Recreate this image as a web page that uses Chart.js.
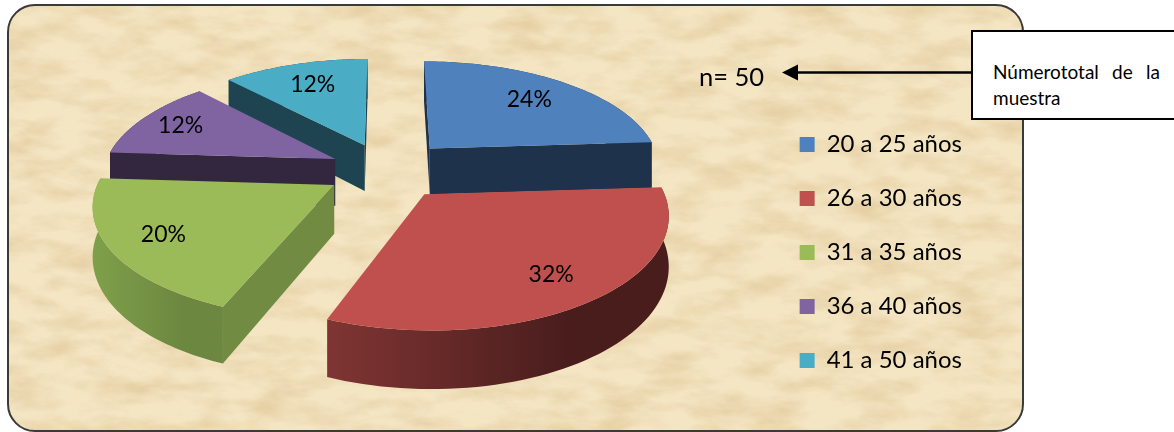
<!DOCTYPE html>
<html>
<head>
<meta charset="utf-8">
<script src="https://cdn.jsdelivr.net/npm/chart.js@4"></script>
<style>
  html, body { margin: 0; padding: 0; background: #fff; }
  #page { position: relative; width: 1174px; height: 432px; overflow: hidden; font-family: Lato, sans-serif; color: #000; }
  #page svg, #page canvas { position: absolute; left: 0; top: 0; }
  #n { position: absolute; left: 699px; top: 61px; font-size: 25.5px; line-height: 30px; }
  #nota { position: absolute; left: 971px; top: 30px; width: 203px; height: 90px; box-sizing: border-box; background: #fff;
          border: 2px solid #000; border-right: 0; padding: 27px 14px 0 20px; font-size: 19px; line-height: 26px; text-align: justify; }
</style>
</head>
<body>
<div id="page">
  <svg width="1174" height="432">
    <defs>
      <filter id="papel" x="0" y="0" width="100%" height="100%">
        <feTurbulence type="fractalNoise" baseFrequency="0.02 0.05" numOctaves="5" seed="7"/>
        <feColorMatrix type="matrix" values="0 0 0 0 0.78  0 0 0 0 0.62  0 0 0 0 0.36  1.9 0 0 0 -0.72"/>
        <feComposite in2="SourceGraphic" operator="in"/>
      </filter>
    </defs>
    <rect x="8" y="5" width="1015" height="426" rx="27" fill="#f4e5c3"/>
    <rect x="8" y="5" width="1015" height="426" rx="27" fill="#000" filter="url(#papel)"/>
    <rect x="8" y="5" width="1015" height="426" rx="27" fill="none" stroke="#3a3a3a" stroke-width="2"/>
    <line x1="971" y1="72.5" x2="796" y2="72.5" stroke="#000" stroke-width="2.5"/>
    <polygon points="782,72.5 798,64.5 798,80.5" fill="#000"/>
  </svg>
  <canvas id="grafico" width="1174" height="432"></canvas>
  <div id="n">n= 50</div>
  <div id="nota">Númerototal de la muestra</div>
</div>

<script>
const categorias = ['20 a 25 años', '26 a 30 años', '31 a 35 años', '36 a 40 años', '41 a 50 años'];
const porcentajes = [24, 32, 20, 12, 12];
const colores = ['#4f81bd', '#c0504d', '#9bbb59', '#8064a2', '#4bacc6'];
const coloresCorte = ['#1f324c', '#4d1f1e', '#718b42', '#33263f', '#1d4450'];
const coloresBorde = [['#1f324c', '#1f324c'], ['#7f3533', '#4a1d1d'], ['#7fa04a', '#6c8740'], ['#33263f', '#33263f'], ['#1d4450', '#1d4450']];
const separacion = [44, 42, 40, 38, 40];

// vista en perspectiva del pastel
const centroX = 386;
const centroY = 170;
const radioVista = 232;
const inclinacion = 0.46;
const fuga = 0.155;
const grosor = 47.5;
const posEtiqueta = [0.72, 0.78, 0.78, 0.8, 0.72];

const pastel3d = {
    id: 'pastel3d',
    beforeDatasetsDraw(chart) {
        const ctx = chart.ctx;
        const arcos = chart.getDatasetMeta(0).data;
        const escala = 1.5;

        const proyectar = (x, y) => {
            const s = 1 / (1 - (y / radioVista) * fuga);
            return { x: centroX + x * s, y: centroY + y * inclinacion * s, s };
        };

        // los de atras primero
        const orden = arcos.map((el, i) => i).sort((a, b) => {
            const mid = (el) => (el.startAngle + el.endAngle) / 2;
            return Math.sin(mid(arcos[a])) - Math.sin(mid(arcos[b]));
        });

        const bajar = (p) => ({ x: p.x, y: p.y + grosor * p.s });
        const camino = (puntos) => {
            ctx.beginPath();
            puntos.forEach((p, n) => (n ? ctx.lineTo(p.x, p.y) : ctx.moveTo(p.x, p.y)));
            ctx.closePath();
        };

        orden.forEach((i) => {
            const el = arcos[i];
            const mid = (el.startAngle + el.endAngle) / 2;
            const desp = el.options.offset * escala;
            const ox = Math.cos(mid) * desp;
            const oy = Math.sin(mid) * desp;
            const punta = proyectar(ox, oy);
            const curva = [];
            const pasos = 60;
            for (let n = 0; n <= pasos; n++) {
                const a = el.startAngle + ((el.endAngle - el.startAngle) * n) / pasos;
                curva.push(proyectar(ox + Math.cos(a) * radioVista, oy + Math.sin(a) * radioVista));
            }
            const ini = curva[0];
            const fin = curva[pasos];

            // pared exterior
            const xs = curva.map((p) => p.x);
            const grad = ctx.createLinearGradient(Math.min(...xs), 0, Math.min(...xs) + (Math.max(...xs) - Math.min(...xs)) * 0.7, 0);
            grad.addColorStop(0, coloresBorde[i][0]);
            grad.addColorStop(1, coloresBorde[i][1]);
            ctx.fillStyle = grad;
            camino(curva.concat(curva.map(bajar).reverse()));
            ctx.fill();

            // paredes de corte que miran hacia el frente
            ctx.fillStyle = coloresCorte[i];
            if (ini.x < punta.x) {
                camino([punta, ini, bajar(ini), bajar(punta)]);
                ctx.fill();
            }
            if (punta.x < fin.x) {
                camino([fin, punta, bajar(punta), bajar(fin)]);
                ctx.fill();
            }

            // cara superior
            ctx.fillStyle = colores[i];
            camino([punta].concat(curva));
            ctx.fill();
        });

        // etiquetas de porcentaje
        ctx.save();
        ctx.fillStyle = '#000';
        ctx.font = '23px Lato, sans-serif';
        ctx.textAlign = 'center';
        ctx.textBaseline = 'middle';
        arcos.forEach((el, i) => {
            const mid = (el.startAngle + el.endAngle) / 2;
            const r = el.options.offset * escala + radioVista * posEtiqueta[i];
            const p = proyectar(Math.cos(mid) * r, Math.sin(mid) * r);
            ctx.fillText(porcentajes[i] + '%', p.x, p.y);
        });
        ctx.restore();
        return false;
    }
};

new Chart(document.getElementById('grafico'), {
    type: 'pie',
    data: {
        labels: categorias,
        datasets: [{
            data: porcentajes,
            backgroundColor: colores,
            borderWidth: 0,
            offset: separacion
        }]
    },
    options: {
        responsive: false,
        animation: false,
        layout: { padding: { top: 73, right: 202 } },
        plugins: {
            tooltip: { enabled: false },
            legend: {
                position: 'right',
                labels: {
                    color: '#000',
                    font: { family: 'Lato, sans-serif', size: 24 },
                    boxWidth: 15,
                    boxHeight: 15,
                    padding: 30
                }
            }
        }
    },
    plugins: [pastel3d]
});
</script>
</body>
</html>
